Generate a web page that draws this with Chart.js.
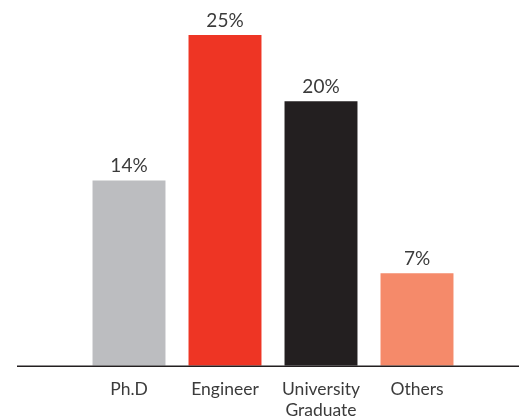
<!DOCTYPE html>
<html>
<head>
<meta charset="utf-8">
<script src="https://cdn.jsdelivr.net/npm/chart.js@4/dist/chart.umd.min.js"></script>
<style>
html,body{margin:0;padding:0;background:#fff;}
#wrap{width:519px;height:420px;position:relative;}
</style>
</head>
<body>
<div id="wrap"><canvas id="c" width="519" height="420"></canvas></div>
<script>
const categories = [["Ph.D"], ["Engineer"], ["University", "Graduate"], ["Others"]];
const values = [14, 25, 20, 7];
const valueLabels = ["14%", "25%", "20%", "7%"];
const barColors = ["#bcbdc0", "#ee3524", "#231f20", "#f58a6a"];

const FONT = "Lato";
const TEXT = "#3b3b3b";

const extras = {
  id: "extras",
  afterDatasetsDraw(chart) {
    const ctx = chart.ctx;
    const y0 = chart.scales.y.getPixelForValue(0);
    ctx.save();
    ctx.strokeStyle = "#231f20";
    ctx.lineWidth = 1.6;
    ctx.beginPath();
    ctx.moveTo(17, y0 + 0.5);
    ctx.lineTo(chart.width, y0 + 0.5);
    ctx.stroke();
    const meta = chart.getDatasetMeta(0);
    ctx.fillStyle = TEXT;
    ctx.font = "19px " + FONT;
    ctx.textAlign = "center";
    ctx.textBaseline = "bottom";
    meta.data.forEach((bar, i) => {
      ctx.fillText(valueLabels[i], bar.x, bar.y - 5);
    });
    ctx.restore();
  }
};

new Chart(document.getElementById("c"), {
  type: "bar",
  data: {
    labels: categories,
    datasets: [{
      data: values,
      backgroundColor: barColors,
      borderWidth: 0,
      categoryPercentage: 1,
      barPercentage: 0.76
    }]
  },
  options: {
    responsive: false,
    animation: false,
    devicePixelRatio: 1,
    layout: { padding: { top: 35, left: 81, right: 54, bottom: -14 } },
    plugins: { legend: { display: false }, tooltip: { enabled: false } },
    scales: {
      x: {
        grid: { display: false, drawTicks: false },
        border: { display: false },
        ticks: {
          color: TEXT,
          font: { family: FONT, size: 17.5, lineHeight: 1.15 },
          padding: 14,
          autoSkip: false,
          maxRotation: 0
        }
      },
      y: {
        display: false,
        min: 0,
        max: 25
      }
    }
  },
  plugins: [extras]
});
</script>
</body>
</html>
